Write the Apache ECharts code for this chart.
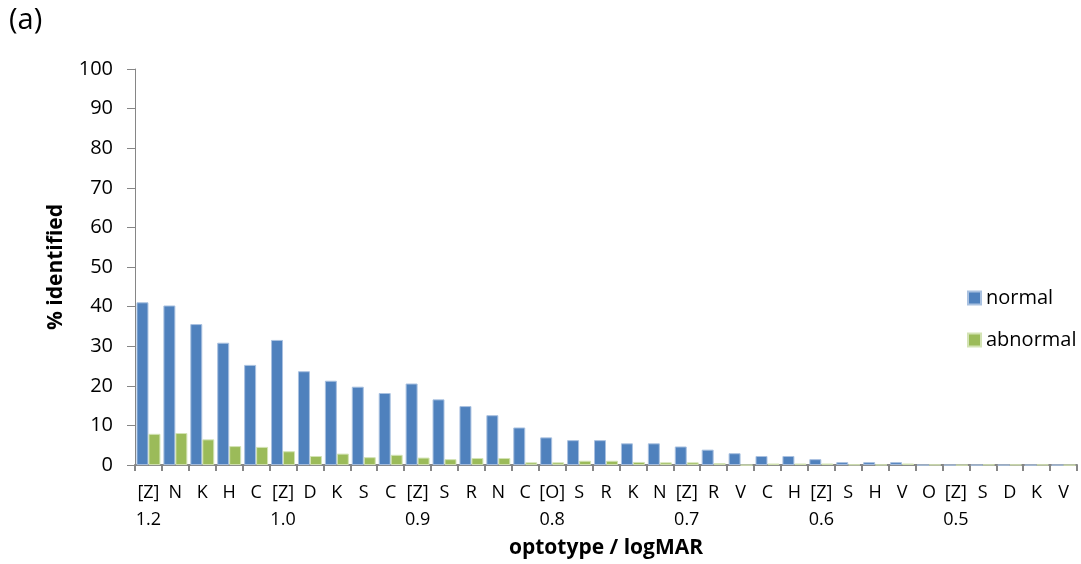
<!DOCTYPE html>
<html>
<head>
<meta charset="utf-8">
<script src="https://cdn.jsdelivr.net/npm/echarts@6/dist/echarts.min.js"></script>
<style>
  html, body { margin: 0; padding: 0; background: #ffffff; }
  #chart { width: 1081px; height: 564px; }
</style>
</head>
<body>
<div id="chart"></div>
<script>
// Optotypes shown at each step, with the logMAR level marked at the first letter of each line
const optotypes = ['[Z]','N','K','H','C','[Z]','D','K','S','C','[Z]','S','R','N','C','[O]','S','R','K','N',
                   '[Z]','R','V','C','H','[Z]','S','H','V','O','[Z]','S','D','K','V'];
const logMAR = ['1.2','','','','','1.0','','','','','0.9','','','','','0.8','','','','',
                '0.7','','','','','0.6','','','','','0.5','','','',''];

// Percentage of optotypes identified
const normal = [41.1, 40.3, 35.6, 30.9, 25.3, 31.6, 23.7, 21.3, 19.8, 18.2,
                20.6, 16.6, 14.9, 12.6, 9.5, 7.0, 6.3, 6.3, 5.5, 5.5,
                4.7, 3.9, 3.0, 2.3, 2.3, 1.5, 0.75, 0.75, 0.75, 0,
                0, 0, 0, 0, 0];
const abnormal = [7.9, 8.1, 6.5, 4.8, 4.6, 3.5, 2.3, 2.9, 2.0, 2.6,
                  1.9, 1.5, 1.8, 1.8, 0.7, 0.7, 1.1, 1.1, 0.8, 0.7,
                  0.7, 0.5, 0, 0.4, 0.4, 0.4, 0.15, 0.1, 0.4, 0.1,
                  0, 0.1, 0.1, 0.1, 0];

const yTicks = { min: 0, max: 100, interval: 10 };

const FONT = '"Open Sans", "Noto Sans", sans-serif';
const AXIS_GREY = '#868686';

const chart = echarts.init(document.getElementById('chart'), null, { renderer: 'canvas' });

chart.setOption({
  backgroundColor: '#ffffff',
  animation: false,
  textStyle: { fontFamily: FONT, color: '#000' },
  grid: { left: 135, right: 4, top: 69, bottom: 98, containLabel: false },
  graphic: [{
    type: 'text', left: 9, top: 6,
    style: { text: '(a)', font: '29px ' + FONT, fill: '#000' }
  }],
  legend: {
    orient: 'vertical',
    left: 962, top: 283,
    itemWidth: 13, itemHeight: 13,
    itemGap: 22,
    icon: 'rect',
    textStyle: { fontSize: 20, fontFamily: FONT, color: '#000' },
    data: ['normal', 'abnormal']
  },
  xAxis: {
    type: 'category',
    data: optotypes.map((o, i) => o + '\n' + logMAR[i]),
    boundaryGap: true,
    name: 'optotype / logMAR',
    nameLocation: 'middle',
    nameGap: 66,
    nameTextStyle: { fontSize: 21, fontWeight: 'bold', fontFamily: FONT, color: '#000' },
    axisLine: { lineStyle: { color: AXIS_GREY, width: 2 } },
    axisTick: { show: true, length: 6, alignWithLabel: false, lineStyle: { color: AXIS_GREY, width: 2 } },
    axisLabel: {
      interval: 0, margin: 14, fontSize: 18, fontFamily: FONT, color: '#000',
      lineHeight: 27,
      formatter: v => v
    },
    splitLine: { show: false }
  },
  yAxis: {
    type: 'value',
    min: yTicks.min, max: yTicks.max, interval: yTicks.interval,
    name: '% identified',
    nameLocation: 'middle',
    nameGap: 68,
    nameRotate: 90,
    nameTextStyle: { fontSize: 21, fontWeight: 'bold', fontFamily: FONT, color: '#000' },
    axisLine: { show: true, lineStyle: { color: AXIS_GREY, width: 1 } },
    axisTick: { show: true, length: 8, lineStyle: { color: AXIS_GREY, width: 1 } },
    axisLabel: { margin: 22, fontSize: 20, fontFamily: FONT, color: '#000' },
    splitLine: { show: false }
  },
  series: [
    {
      name: 'normal', type: 'bar', data: normal,
      barGap: '0%', barCategoryGap: '11%',
      itemStyle: { color: '#4f81bd', borderColor: '#a9c1e0', borderWidth: 1 }
    },
    {
      name: 'abnormal', type: 'bar', data: abnormal,
      barGap: '0%', barCategoryGap: '11%',
      itemStyle: { color: '#9bbb59', borderColor: '#d3e3b4', borderWidth: 1 }
    }
  ]
});
</script>
</body>
</html>
